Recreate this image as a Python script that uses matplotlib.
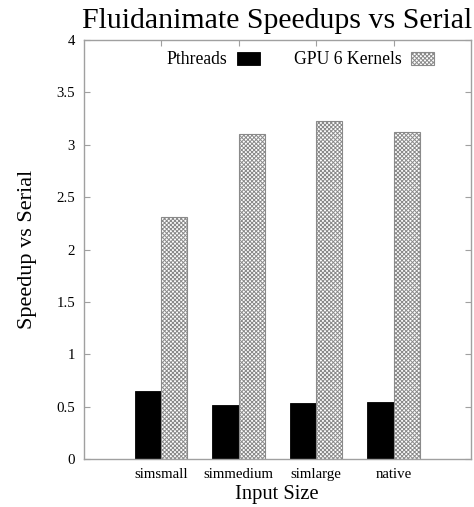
import numpy as np
import matplotlib
matplotlib.use("Agg")
import matplotlib.pyplot as plt

# values
sizes = ["simsmall", "simmedium", "simlarge", "native"]
pthreads = [0.65, 0.52, 0.535, 0.545]
gpu_6_kernels = [2.31, 3.10, 3.225, 3.12]
yticks = [0, 0.5, 1, 1.5, 2, 2.5, 3, 3.5, 4]
ytick_labels = ["0", "0.5", "1", "1.5", "2", "2.5", "3", "3.5", "4"]

plt.rcParams['font.family'] = ['Liberation Serif', 'DejaVu Serif']
plt.rcParams['hatch.color'] = '#8a8a8a'
plt.rcParams['hatch.linewidth'] = 0.7

fig = plt.figure(figsize=(4.74, 5.07), dpi=100)
ax = fig.add_axes([83.5 / 474, 1 - 459.3 / 507, (471 - 83.5) / 474, (459.3 - 40) / 507])

x = np.arange(1, len(sizes) + 1)
w = 0.34
ax.bar(x - w / 2, pthreads, w, color='black', edgecolor='black', linewidth=0.6,
       label='Pthreads', zorder=2)
ax.bar(x + w / 2, gpu_6_kernels, w, color='white', edgecolor='#8a8a8a', linewidth=0.8,
       hatch='xxxxxxxx', label='GPU 6 Kernels', zorder=2)

ax.set_xlim(0, len(sizes) + 1)
ax.set_ylim(0, 4)
ax.set_xticks(x)
ax.set_xticklabels(sizes)
ax.set_yticks(yticks)
ax.set_yticklabels(ytick_labels)

for s in ax.spines.values():
    s.set_color('#a0a0a0')
    s.set_linewidth(1.0)
    s.set_zorder(3)
ax.tick_params(direction='in', length=4, width=0.8, color='#a0a0a0',
               top=True, right=True, labelsize=10.7)
ax.tick_params(axis='x', pad=6)
ax.tick_params(axis='y', pad=6)

ax.set_xlabel('Input Size', fontsize=14.8, labelpad=3)
ax.set_ylabel('Speedup vs Serial', fontsize=16, labelpad=14)
ax.set_title('Fluidanimate Speedups vs Serial', fontsize=21.5, pad=9)

ax.legend(loc='center', bbox_to_anchor=(300.5 / 474, 1 - 60 / 507),
          bbox_transform=fig.transFigure, ncol=2, frameon=False,
          markerfirst=False, fontsize=12.7, handlelength=1.3, handleheight=0.75,
          handletextpad=0.55, columnspacing=1.9, borderpad=0, borderaxespad=0)

fig.savefig('out.png', dpi=100)
